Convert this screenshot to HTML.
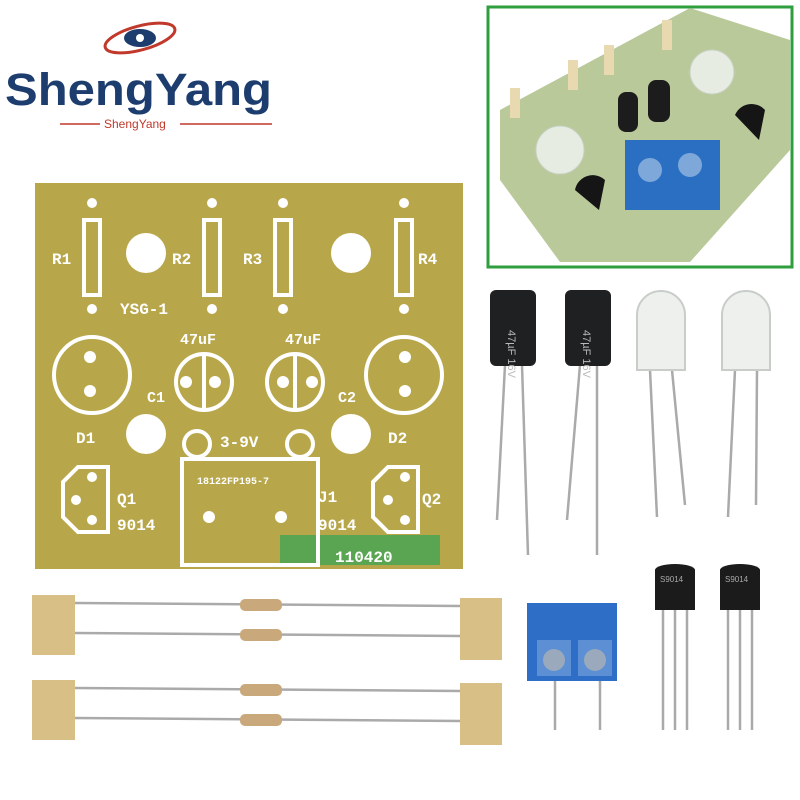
<!DOCTYPE html><html><head><style>body{margin:0;background:#fff}svg{display:block}</style></head><body>
<svg width="800" height="800" viewBox="0 0 800 800" xmlns="http://www.w3.org/2000/svg" font-family="Liberation Sans, sans-serif">
<rect width="800" height="800" fill="#fff"/>
<!-- logo -->
<ellipse cx="140" cy="38" rx="36" ry="12" fill="none" stroke="#c0392b" stroke-width="3" transform="rotate(-15 140 38)"/>
<ellipse cx="140" cy="38" rx="16" ry="9" fill="#1d3d6e"/>
<circle cx="140" cy="38" r="4" fill="#fff"/>
<text x="5" y="105" font-size="45" font-weight="bold" fill="#1d3d6e" textLength="267" lengthAdjust="spacingAndGlyphs">ShengYang</text>
<line x1="60" y1="124" x2="100" y2="124" stroke="#c0392b" stroke-width="1.5"/>
<line x1="180" y1="124" x2="272" y2="124" stroke="#c0392b" stroke-width="1.5"/>
<text x="104" y="128" font-size="12" fill="#c0392b">ShengYang</text>
<!-- inset photo -->
<rect x="488" y="7" width="304" height="260" fill="#fff" stroke="#2e9e3e" stroke-width="3"/>
<polygon points="500,110 690,8 790,40 790,150 690,262 560,262 500,180" fill="#b9c99a"/>
<g fill="#e8d9b0"><rect x="510" y="88" width="10" height="30"/><rect x="568" y="60" width="10" height="30"/><rect x="604" y="45" width="10" height="30"/><rect x="662" y="20" width="10" height="30"/></g>
<circle cx="560" cy="150" r="24" fill="#e6ece2" stroke="#c8d0c4"/><circle cx="712" cy="72" r="22" fill="#e6ece2" stroke="#c8d0c4"/>
<rect x="618" y="92" width="20" height="40" rx="8" fill="#1c1c1c"/><rect x="648" y="80" width="22" height="42" rx="8" fill="#1c1c1c"/>
<rect x="625" y="140" width="95" height="70" fill="#2b6fc2"/><circle cx="650" cy="170" r="12" fill="#7fa8da"/><circle cx="690" cy="165" r="12" fill="#7fa8da"/>
<path d="M575 190 a18 18 0 0 1 30 -10 l-6 30 z" fill="#151515"/><path d="M735 115 a18 18 0 0 1 30 -5 l-6 30 z" fill="#151515"/>
<!-- PCB -->
<rect x="35" y="183" width="428" height="386" fill="#b8a74a"/>
<rect x="280" y="535" width="160" height="30" fill="#5aa552"/>
<g fill="#fff">
<circle cx="146" cy="253" r="20"/><circle cx="351" cy="253" r="20"/><circle cx="146" cy="434" r="20"/><circle cx="351" cy="434" r="20"/>
<circle cx="92" cy="203" r="5"/><circle cx="92" cy="309" r="5"/><circle cx="212" cy="203" r="5"/><circle cx="212" cy="309" r="5"/><circle cx="283" cy="203" r="5"/><circle cx="283" cy="309" r="5"/><circle cx="404" cy="203" r="5"/><circle cx="404" cy="309" r="5"/>
</g>
<g fill="none" stroke="#fff" stroke-width="4">
<rect x="84" y="220" width="16" height="75"/><rect x="204" y="220" width="16" height="75"/><rect x="275" y="220" width="16" height="75"/><rect x="396" y="220" width="16" height="75"/>
<circle cx="92" cy="375" r="38"/><circle cx="404" cy="375" r="38"/>
<circle cx="204" cy="382" r="28"/><circle cx="295" cy="382" r="28"/>
<line x1="204" y1="354" x2="204" y2="410"/><line x1="295" y1="354" x2="295" y2="410"/>
<circle cx="197" cy="444" r="13"/><circle cx="300" cy="444" r="13"/>
<rect x="182" y="459" width="136" height="106"/>
<path d="M78 467 h30 v65 h-30 l-15 -15 v-35 z"/><path d="M388 467 h30 v65 h-30 l-15 -15 v-35 z"/>
</g>
<g fill="#fff">
<circle cx="90" cy="357" r="6"/><circle cx="90" cy="391" r="6"/><circle cx="405" cy="357" r="6"/><circle cx="405" cy="391" r="6"/>
<circle cx="186" cy="382" r="6"/><circle cx="215" cy="382" r="6"/><circle cx="283" cy="382" r="6"/><circle cx="312" cy="382" r="6"/>
<circle cx="209" cy="517" r="6"/><circle cx="281" cy="517" r="6"/>
<circle cx="92" cy="477" r="5"/><circle cx="76" cy="500" r="5"/><circle cx="92" cy="520" r="5"/>
<circle cx="405" cy="477" r="5"/><circle cx="388" cy="500" r="5"/><circle cx="405" cy="520" r="5"/>
</g>
<g fill="#fff" font-weight="bold" font-family="Liberation Mono, monospace">
<text x="52" y="264" font-size="16">R1</text><text x="172" y="264" font-size="16">R2</text><text x="243" y="264" font-size="16">R3</text><text x="418" y="264" font-size="16">R4</text>
<text x="120" y="314" font-size="16">YSG-1</text>
<text x="180" y="344" font-size="15">47uF</text><text x="285" y="344" font-size="15">47uF</text>
<text x="147" y="402" font-size="15">C1</text><text x="338" y="402" font-size="15">C2</text>
<text x="76" y="443" font-size="16">D1</text><text x="388" y="443" font-size="16">D2</text>
<text x="220" y="447" font-size="16">3-9V</text>
<text x="197" y="484" font-size="10">18122FP195-7</text>
<text x="318" y="502" font-size="16">J1</text>
<text x="117" y="504" font-size="16">Q1</text><text x="117" y="530" font-size="16">9014</text>
<text x="318" y="530" font-size="16">9014</text><text x="422" y="504" font-size="16">Q2</text>
<text x="335" y="562" font-size="16">110420</text>
</g>
<!-- leads -->
<g stroke="#aaa" stroke-width="2.5" fill="none">
<line x1="505" y1="365" x2="497" y2="520"/><line x1="522" y1="365" x2="528" y2="555"/>
<line x1="580" y1="365" x2="567" y2="520"/><line x1="597" y1="365" x2="597" y2="555"/>
<line x1="650" y1="370" x2="657" y2="517"/><line x1="672" y1="370" x2="685" y2="505"/>
<line x1="735" y1="370" x2="728" y2="517"/><line x1="757" y1="370" x2="756" y2="505"/>
<line x1="663" y1="605" x2="663" y2="730"/><line x1="675" y1="605" x2="675" y2="730"/><line x1="687" y1="605" x2="687" y2="730"/>
<line x1="728" y1="605" x2="728" y2="730"/><line x1="740" y1="605" x2="740" y2="730"/><line x1="752" y1="605" x2="752" y2="730"/>
<line x1="75" y1="603" x2="460" y2="606"/><line x1="75" y1="633" x2="460" y2="636"/><line x1="75" y1="688" x2="460" y2="691"/><line x1="75" y1="718" x2="460" y2="721"/>
<line x1="555" y1="680" x2="555" y2="730"/><line x1="600" y1="680" x2="600" y2="730"/>
</g>
<rect x="490" y="290" width="46" height="76" rx="6" fill="#1f2022"/><rect x="565" y="290" width="46" height="76" rx="6" fill="#1f2022"/>
<text x="508" y="330" font-size="11" fill="#bbb" transform="rotate(90 508 330)">47µF 16V</text>
<text x="583" y="330" font-size="11" fill="#bbb" transform="rotate(90 583 330)">47µF 16V</text>
<!-- LEDs -->
<g fill="#eef0ee" stroke="#c9cdc9" stroke-width="2"><path d="M637 370 v-55 a24 24 0 0 1 48 0 v55 z"/><path d="M722 370 v-55 a24 24 0 0 1 48 0 v55 z"/></g>
<!-- resistors -->
<g fill="#d8bf86"><rect x="32" y="595" width="43" height="60"/><rect x="460" y="598" width="42" height="62"/><rect x="32" y="680" width="43" height="60"/><rect x="460" y="683" width="42" height="62"/></g>
<g fill="#c9a97c"><rect x="240" y="599" width="42" height="12" rx="5"/><rect x="240" y="629" width="42" height="12" rx="5"/><rect x="240" y="684" width="42" height="12" rx="5"/><rect x="240" y="714" width="42" height="12" rx="5"/></g>
<!-- terminal -->
<rect x="527" y="603" width="90" height="78" fill="#2f6ec6"/>
<rect x="537" y="640" width="34" height="36" fill="#5c8fd4"/><rect x="578" y="640" width="34" height="36" fill="#5c8fd4"/>
<circle cx="554" cy="660" r="11" fill="#9aa9bb"/><circle cx="595" cy="660" r="11" fill="#9aa9bb"/>
<!-- transistors -->
<path d="M655 610 v-40 a20 6 0 0 1 40 0 v40 z" fill="#1b1b1b"/><path d="M720 610 v-40 a20 6 0 0 1 40 0 v40 z" fill="#1b1b1b"/>
<text x="660" y="582" font-size="8" fill="#aaa">S9014</text><text x="725" y="582" font-size="8" fill="#aaa">S9014</text>
</svg></body></html>
